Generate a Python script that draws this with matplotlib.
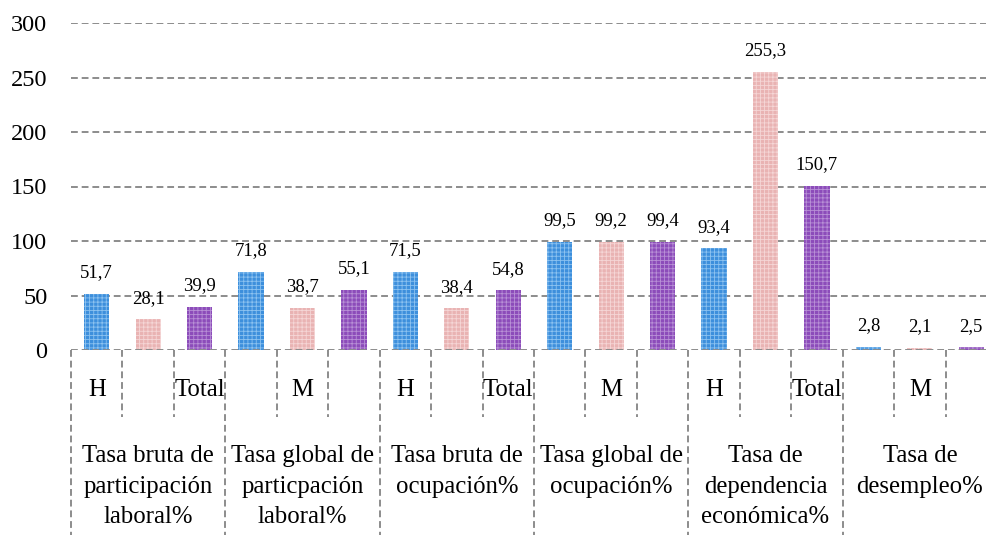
import matplotlib
matplotlib.use("Agg")
import matplotlib.pyplot as plt
from matplotlib.lines import Line2D
import matplotlib.transforms as mtransforms

plt.rcParams['font.family'] = ['Liberation Serif', 'DejaVu Serif']
plt.rcParams['hatch.linewidth'] = 0.6

groups = ["Tasa bruta de\nparticipación\nlaboral%",
          "Tasa global de\nparticpación\nlaboral%",
          "Tasa bruta de\nocupación%",
          "Tasa global de\nocupación%",
          "Tasa de\ndependencia\neconómica%",
          "Tasa de\ndesempleo%"]
sub_labels = ["H", "", "Total", "", "M", "", "H", "", "Total",
              "", "M", "", "H", "", "Total", "", "M", ""]
hombres = [51.7, 71.8, 71.5, 99.5, 93.4, 2.8]
mujeres = [28.1, 38.7, 38.4, 99.2, 255.3, 2.1]
total = [39.9, 55.1, 54.8, 99.4, 150.7, 2.5]
yticks = [0, 50, 100, 150, 200, 250, 300]

face = ['#3d8fdc', '#e9b3b3', '#8c4cba']
hatchc = ['#8cc2f0', '#f5d6d6', '#b890d6']

W, H = 987, 535
fig = plt.figure(figsize=(W / 100, H / 100), dpi=100)
x0, x1 = 71, 997
y0, y1 = 350, 23
ax = fig.add_axes([x0 / W, (H - y0) / H, (x1 - x0) / W, (y0 - y1) / H])

series = [hombres, mujeres, total]
for s, vals in enumerate(series):
    xs = [g * 3 + s for g in range(len(groups))]
    ax.bar(xs, vals, width=0.49, color=face[s], edgecolor=hatchc[s],
           linewidth=0, hatch='++++', zorder=3)
    for xx, v in zip(xs, vals):
        ax.annotate(f"{v:.1f}".replace('.', ','), (xx, v), xytext=(0, 9),
                    textcoords='offset points', ha='center', va='bottom',
                    fontsize=13.5, color='black', zorder=4)

ax.set_xlim(-0.5, 17.5)
ax.set_ylim(0, 300)
ax.set_yticks(yticks)
ax.set_yticklabels([str(t) for t in yticks], fontsize=17.5)
ax.tick_params(axis='y', length=0, pad=17)
ax.set_xticks([])
for sp in ax.spines.values():
    sp.set_visible(False)

dash = dict(color='#8c8c8c', linewidth=1.4, linestyle=(0, (3.5, 2)))
for t in yticks:
    ax.axhline(t, zorder=1 if t else 5, **dash)

trans = mtransforms.blended_transform_factory(ax.transData, ax.transAxes)
ypx = lambda p: (y0 - p) / (y0 - y1)
for i in range(19):
    xb = i - 0.5
    bottom = ypx(540) if i % 3 == 0 else ypx(417)
    ax.add_line(Line2D([xb, xb], [0, bottom], transform=trans, clip_on=False, **dash))

for i, lab in enumerate(sub_labels):
    if lab:
        ax.text(i, ypx(390), lab, transform=trans, ha='center', va='center',
                fontsize=17.8)
for g, lab in enumerate(groups):
    ax.text(g * 3 + 1, ypx(445), lab, transform=trans, ha='center', va='top',
            fontsize=17.8, linespacing=1.5)

fig.savefig('out.png', dpi=100)
